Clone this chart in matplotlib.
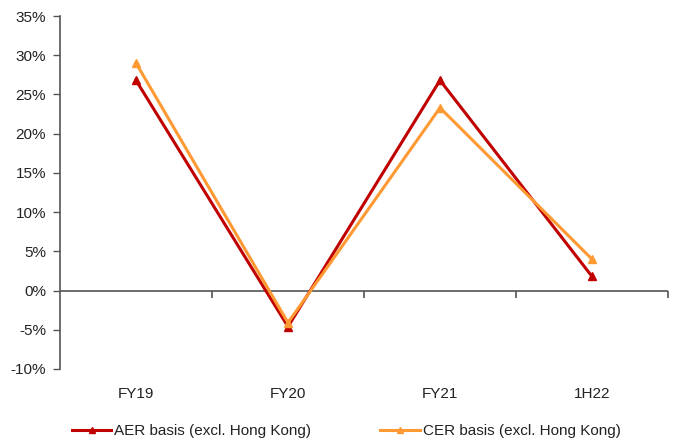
import matplotlib.pyplot as plt
from matplotlib.ticker import FuncFormatter

plt.rcParams['font.family'] = ['Liberation Sans', 'DejaVu Sans']

periods = ['FY19', 'FY20', 'FY21', '1H22']
aer_growth = [26.8, -4.6, 26.8, 1.8]
cer_growth = [29.0, -4.1, 23.3, 4.0]

aer_color = '#C00000'
cer_color = '#FF9933'
text_color = '#222222'
axis_color = '#555555'

fig = plt.figure(figsize=(6.79, 4.41), dpi=100)
ax = fig.add_axes([60 / 679, 1 - 369 / 441, 608 / 679, 353 / 441])

x = range(len(periods))
ax.plot(x, aer_growth, color=aer_color, lw=2.2, marker='^', ms=6,
        label='AER basis (excl. Hong Kong)')
ax.plot(x, cer_growth, color=cer_color, lw=2.2, marker='^', ms=6,
        label='CER basis (excl. Hong Kong)')

ax.set_xlim(-0.5, len(periods) - 0.5)
ax.set_ylim(-10, 35)
ax.set_yticks(range(-10, 36, 5))
ax.yaxis.set_major_formatter(FuncFormatter(lambda v, _: f'{v:.0f}%'))
ax.tick_params(axis='y', direction='out', length=5, width=1, color=axis_color,
               labelsize=11, labelcolor=text_color, pad=5)

ax.set_xticks(list(x))
ax.set_xticklabels(periods)
ax.tick_params(axis='x', length=0, labelsize=11, labelcolor=text_color, pad=13)

for side in ['top', 'right', 'bottom']:
    ax.spines[side].set_visible(False)
ax.spines['left'].set_color(axis_color)
ax.spines['left'].set_linewidth(1.2)

# category axis drawn at 0% with tick marks between categories
ax.axhline(0, color=axis_color, lw=1.2, zorder=1)
sec = ax.secondary_xaxis(10 / 45)
sec.set_xticks([i + 0.5 for i in x])
sec.set_xticklabels([])
sec.spines['bottom'].set_visible(False)
sec.tick_params(direction='out', length=5, width=1.2, color=axis_color)

fig.legend(loc='center', bbox_to_anchor=(0.51, 1 - 431 / 441), ncol=2,
           frameon=False, fontsize=11, handlelength=2.6, handletextpad=0.2,
           columnspacing=4.5, labelcolor=text_color, markerscale=0.7)

fig.savefig('out.png', dpi=100)
